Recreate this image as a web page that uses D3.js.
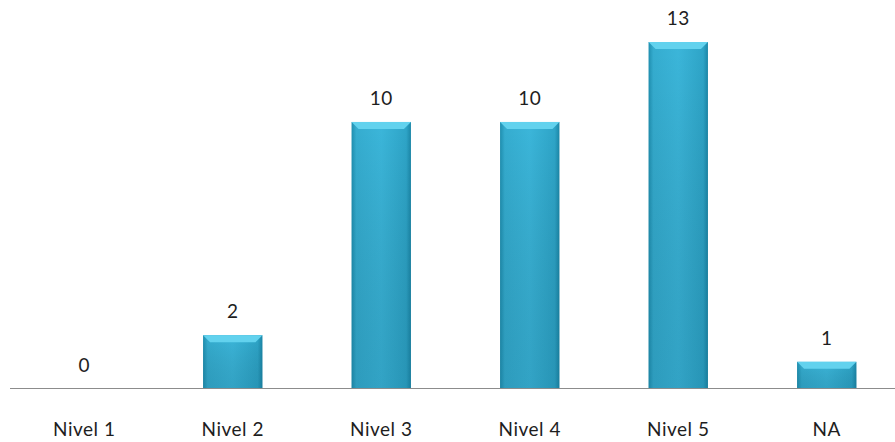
<!DOCTYPE html>
<html>
<head>
<meta charset="utf-8">
<script src="https://cdn.jsdelivr.net/npm/d3@7"></script>
<style>
  body { margin: 0; background: #fff; }
  .label { font-family: Lato, "Open Sans", sans-serif; font-size: 19px; letter-spacing: 0.5px; fill: #1e1e1e; }
</style>
</head>
<body>
<div id="chart-holder"></div>
<script>
// chart data
var categories = ["Nivel 1", "Nivel 2", "Nivel 3", "Nivel 4", "Nivel 5", "NA"];
var values = [0, 2, 10, 10, 13, 1];

var width = 895, height = 442;
var baseline = 388.5;

var svg = d3.select("#chart-holder")
  .append("svg")
  .attr("width", width)
  .attr("height", height);

var x = d3.scaleBand()
  .domain(categories)
  .range([10, 901])
  .paddingInner(0.6)
  .paddingOuter(0.3);

var y = d3.scaleLinear()
  .domain([0, 13])
  .range([baseline, 42]);

// gradients for the bevelled bars
var defs = svg.append("defs");
var side = defs.append("linearGradient").attr("id", "side")
  .attr("x1", 0).attr("x2", 1).attr("y1", 0).attr("y2", 0);
side.append("stop").attr("offset", "0%").attr("stop-color", "#1f8fb0");
side.append("stop").attr("offset", "8%").attr("stop-color", "#35add0");
side.append("stop").attr("offset", "50%").attr("stop-color", "#3bb6da");
side.append("stop").attr("offset", "92%").attr("stop-color", "#2ea5c8");
side.append("stop").attr("offset", "100%").attr("stop-color", "#1b87a8");

var vert = defs.append("linearGradient").attr("id", "vert")
  .attr("x1", 0).attr("x2", 0).attr("y1", 0).attr("y2", 1);
vert.append("stop").attr("offset", "0%").attr("stop-color", "#000").attr("stop-opacity", 0);
vert.append("stop").attr("offset", "100%").attr("stop-color", "#0a4d66").attr("stop-opacity", 0.18);

var bw = x.bandwidth();
var bevel = 7;

var data = categories.map(function(c, i) { return { cat: c, value: values[i] }; });
var bars = data.filter(function(d) { return d.value > 0; });

// bar bodies
svg.selectAll("rect.bar")
  .data(bars)
  .enter()
  .append("rect")
  .attr("class", "bar")
  .attr("x", function(d) { return x(d.cat); })
  .attr("y", function(d) { return y(d.value); })
  .attr("width", bw)
  .attr("height", function(d) { return baseline - y(d.value); })
  .attr("fill", "url(#side)");

svg.selectAll("rect.shade")
  .data(bars)
  .enter()
  .append("rect")
  .attr("class", "shade")
  .attr("x", function(d) { return x(d.cat); })
  .attr("y", function(d) { return y(d.value); })
  .attr("width", bw)
  .attr("height", function(d) { return baseline - y(d.value); })
  .attr("fill", "url(#vert)");

// top bevel
svg.selectAll("path.bevel")
  .data(bars)
  .enter()
  .append("path")
  .attr("class", "bevel")
  .attr("d", function(d) {
    var x0 = x(d.cat), x1 = x0 + bw, t = y(d.value);
    return "M" + x0 + "," + t + "L" + x1 + "," + t +
      "L" + (x1 - bevel) + "," + (t + bevel) + "L" + (x0 + bevel) + "," + (t + bevel) + "Z";
  })
  .attr("fill", "#62d2ee");

// baseline
svg.append("line")
  .attr("x1", 10).attr("x2", width)
  .attr("y1", baseline).attr("y2", baseline)
  .attr("stroke", "#8c8c8c")
  .attr("stroke-width", 1.2);

// value labels
svg.selectAll("text.value")
  .data(data)
  .enter()
  .append("text")
  .attr("class", "label")
  .attr("text-anchor", "middle")
  .attr("x", function(d) { return x(d.cat) + bw / 2; })
  .attr("y", function(d) { return y(d.value) - 17; })
  .text(function(d) { return d.value; });

// category labels
svg.selectAll("text.cat")
  .data(categories)
  .enter()
  .append("text")
  .attr("class", "label")
  .attr("text-anchor", "middle")
  .attr("x", function(d) { return x(d) + bw / 2; })
  .attr("y", 436)
  .text(function(d) { return d; });
</script>
</body>
</html>
